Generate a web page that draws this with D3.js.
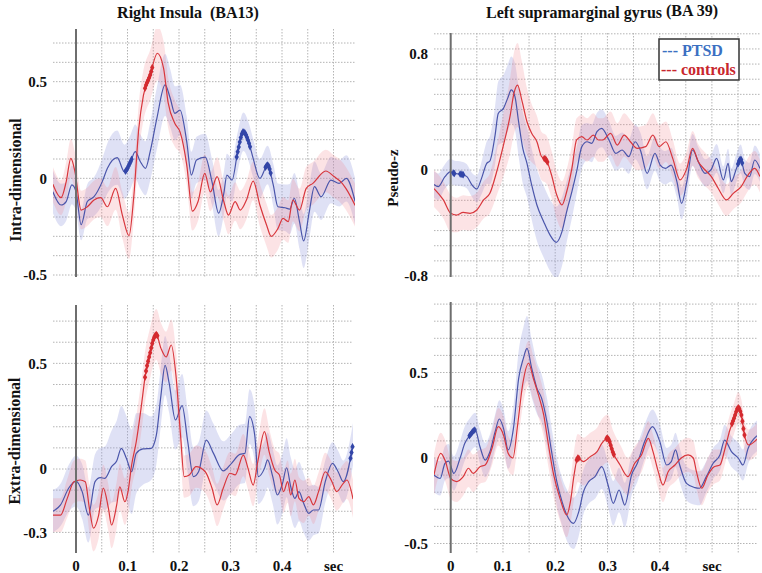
<!DOCTYPE html>
<html><head><meta charset="utf-8">
<script src="https://cdn.jsdelivr.net/npm/d3@7/dist/d3.min.js"></script>
<style>
html,body{margin:0;padding:0;background:#fff;}
svg{display:block;}
text{font-family:"Liberation Serif","Times New Roman",serif;font-weight:bold;}
</style></head>
<body>
<svg id="chart" width="762" height="573"></svg>
<script>
// ---------- DATA: [time (s), mean pseudo-z, half-width of shaded band] ----------
const ri_intra_ptsd = [[-0.045,-0.069,0.11],[-0.029,-0.138,0.11],[-0.019,-0.12,0.1],[-0.008,-0.034,0.1],[0.0,-0.069,0.1],[0.010,-0.24,0.08],[0.022,-0.12,0.09],[0.035,-0.095,0.1],[0.051,-0.017,0.12],[0.061,0.052,0.13],[0.080,0.107,0.14],[0.094,0.034,0.14],[0.106,0.086,0.14],[0.115,0.138,0.14],[0.125,0.086,0.14],[0.135,0.052,0.14],[0.144,0.138,0.15],[0.157,0.31,0.16],[0.173,0.483,0.16],[0.183,0.414,0.15],[0.192,0.336,0.14],[0.202,0.353,0.13],[0.215,0.19,0.13],[0.224,0.017,0.12],[0.234,0.095,0.12],[0.251,0.11,0.12],[0.264,-0.017,0.12],[0.277,-0.18,0.12],[0.287,-0.078,0.11],[0.293,0.017,0.11],[0.303,-0.009,0.11],[0.314,0.138,0.1],[0.325,0.241,0.1],[0.335,0.19,0.1],[0.344,0.103,0.1],[0.357,0,0.1],[0.372,0.069,0.1],[0.383,-0.034,0.11],[0.392,-0.147,0.12],[0.406,-0.152,0.12],[0.415,-0.159,0.13],[0.424,-0.103,0.13],[0.434,-0.224,0.14],[0.442,-0.324,0.14],[0.453,-0.172,0.14],[0.463,-0.043,0.13],[0.476,-0.095,0.12],[0.495,-0.009,0.12],[0.511,-0.026,0.12],[0.525,0,0.12],[0.542,-0.12,0.12]];
const ri_intra_ctrl = [[-0.045,-0.03,0.09],[-0.029,-0.10,0.09],[-0.019,-0.017,0.1],[-0.010,0.103,0.1],[-0.002,0.034,0.1],[0.010,-0.164,0.1],[0.022,-0.147,0.1],[0.035,-0.112,0.1],[0.048,-0.10,0.1],[0.061,-0.147,0.1],[0.077,-0.052,0.11],[0.090,-0.19,0.12],[0.103,-0.297,0.12],[0.112,-0.10,0.12],[0.122,0.26,0.13],[0.131,0.43,0.13],[0.144,0.534,0.13],[0.158,0.647,0.14],[0.170,0.57,0.14],[0.179,0.39,0.13],[0.192,0.284,0.12],[0.202,0.24,0.11],[0.215,0.07,0.1],[0.226,-0.17,0.1],[0.237,-0.12,0.1],[0.25,0.026,0.1],[0.261,-0.07,0.1],[0.274,0.009,0.1],[0.287,-0.12,0.1],[0.296,-0.19,0.1],[0.309,-0.12,0.1],[0.319,-0.164,0.1],[0.331,-0.112,0.1],[0.344,-0.014,0.1],[0.357,-0.138,0.11],[0.370,-0.241,0.11],[0.379,-0.30,0.11],[0.392,-0.26,0.11],[0.402,-0.207,0.11],[0.412,-0.224,0.11],[0.421,-0.112,0.11],[0.434,-0.164,0.11],[0.447,-0.052,0.11],[0.46,-0.026,0.11],[0.485,0.038,0.11],[0.501,0.009,0.11],[0.514,-0.017,0.11],[0.524,-0.052,0.11],[0.542,-0.14,0.11]];
const ri_extra_ptsd = [[-0.045,-0.2,0.1],[-0.030,-0.17,0.1],[-0.014,-0.09,0.11],[0.0,-0.057,0.12],[0.012,-0.107,0.13],[0.024,-0.218,0.13],[0.037,-0.06,0.13],[0.047,-0.041,0.14],[0.056,-0.044,0.15],[0.069,0.011,0.17],[0.079,0.038,0.19],[0.088,0.098,0.2],[0.098,0.05,0.2],[0.108,-0.013,0.2],[0.117,0.074,0.19],[0.130,0.095,0.17],[0.146,0.098,0.15],[0.156,0.16,0.14],[0.165,0.35,0.14],[0.173,0.49,0.14],[0.181,0.405,0.14],[0.193,0.232,0.14],[0.206,0.30,0.15],[0.217,0.129,0.15],[0.228,-0.036,0.14],[0.238,-0.013,0.14],[0.253,0.137,0.14],[0.267,0.074,0.14],[0.286,-0.009,0.14],[0.302,0.027,0.14],[0.318,0.069,0.14],[0.328,0.074,0.14],[0.337,0.248,0.13],[0.347,0.161,0.13],[0.354,-0.036,0.13],[0.366,0.003,0.13],[0.372,0.043,0.13],[0.382,-0.036,0.13],[0.391,-0.123,0.14],[0.401,-0.068,0.14],[0.409,0.006,0.14],[0.417,-0.084,0.14],[0.425,-0.139,0.14],[0.433,-0.107,0.14],[0.442,-0.162,0.14],[0.452,-0.21,0.13],[0.461,-0.194,0.12],[0.471,-0.194,0.11],[0.484,-0.06,0.1],[0.498,0.027,0.1],[0.509,-0.013,0.1],[0.519,-0.06,0.1],[0.538,0.12,0.1]];
const ri_extra_ctrl = [[-0.045,-0.218,0.08],[-0.030,-0.218,0.08],[-0.017,-0.139,0.09],[-0.004,-0.06,0.1],[0.008,-0.052,0.1],[0.018,-0.06,0.1],[0.026,-0.186,0.11],[0.034,-0.28,0.11],[0.044,-0.218,0.11],[0.053,-0.09,0.11],[0.063,-0.186,0.11],[0.069,-0.265,0.11],[0.079,-0.17,0.11],[0.085,-0.084,0.11],[0.095,-0.155,0.11],[0.101,-0.107,0.11],[0.108,0.019,0.11],[0.117,0.129,0.12],[0.127,0.30,0.12],[0.135,0.45,0.12],[0.143,0.54,0.12],[0.151,0.618,0.12],[0.156,0.637,0.12],[0.165,0.571,0.12],[0.175,0.53,0.12],[0.185,0.587,0.12],[0.194,0.445,0.12],[0.203,0.16,0.11],[0.210,-0.036,0.1],[0.220,-0.028,0.1],[0.233,0.011,0.1],[0.251,-0.013,0.1],[0.264,-0.09,0.1],[0.274,-0.17,0.1],[0.286,-0.09,0.1],[0.299,-0.02,0.1],[0.309,-0.028,0.1],[0.325,0.066,0.1],[0.334,0.003,0.1],[0.344,-0.076,0.1],[0.353,0.035,0.1],[0.366,0.177,0.11],[0.375,0.082,0.11],[0.386,-0.005,0.1],[0.395,-0.028,0.1],[0.403,-0.107,0.1],[0.411,-0.06,0.1],[0.417,-0.123,0.1],[0.425,-0.052,0.1],[0.433,-0.139,0.1],[0.442,-0.155,0.1],[0.452,-0.131,0.09],[0.461,-0.17,0.09],[0.471,-0.107,0.09],[0.484,-0.013,0.09],[0.497,-0.06,0.09],[0.506,-0.107,0.09],[0.519,-0.068,0.09],[0.526,-0.052,0.09],[0.538,-0.142,0.09]];
const lsg_intra_ptsd = [[-0.032,-0.11,0.1],[-0.024,-0.126,0.1],[-0.011,-0.05,0.09],[0,-0.013,0.09],[0.006,-0.025,0.09],[0.021,-0.033,0.09],[0.031,-0.05,0.09],[0.040,-0.108,0.09],[0.050,-0.143,0.1],[0.059,-0.063,0.12],[0.069,0.046,0.15],[0.075,0.062,0.17],[0.085,0.241,0.2],[0.091,0.39,0.22],[0.101,0.425,0.23],[0.109,0.494,0.23],[0.116,0.552,0.23],[0.123,0.506,0.23],[0.130,0.333,0.24],[0.138,0.149,0.25],[0.146,0.046,0.25],[0.155,-0.113,0.26],[0.165,-0.264,0.27],[0.178,-0.39,0.27],[0.190,-0.49,0.27],[0.202,-0.546,0.27],[0.213,-0.465,0.26],[0.222,-0.314,0.23],[0.232,-0.164,0.2],[0.241,-0.013,0.17],[0.251,0.161,0.15],[0.261,0.195,0.13],[0.270,0.184,0.13],[0.280,0.264,0.13],[0.289,0.287,0.13],[0.303,0.207,0.13],[0.316,0.115,0.12],[0.328,0.138,0.12],[0.341,0.092,0.12],[0.353,0.195,0.12],[0.363,0.138,0.12],[0.376,-0.025,0.12],[0.391,0.115,0.12],[0.401,0.034,0.12],[0.411,0.011,0.12],[0.422,0.034,0.12],[0.433,-0.088,0.12],[0.442,-0.252,0.12],[0.452,-0.088,0.12],[0.463,0.138,0.11],[0.474,0.057,0.1],[0.487,-0.025,0.1],[0.498,0,0.1],[0.509,0.08,0.1],[0.522,-0.075,0.1],[0.531,0.046,0.1],[0.537,-0.088,0.1],[0.547,0.011,0.1],[0.555,0.076,0.1],[0.563,-0.025,0.1],[0.572,-0.05,0.1],[0.582,0.069,0.1],[0.592,0.011,0.1]];
const lsg_intra_ctrl = [[-0.032,-0.14,0.14],[-0.014,-0.226,0.14],[0,-0.327,0.14],[0.011,-0.34,0.13],[0.024,-0.32,0.13],[0.037,-0.327,0.13],[0.050,-0.302,0.13],[0.063,-0.226,0.14],[0.075,-0.176,0.15],[0.088,-0.013,0.18],[0.101,0.172,0.22],[0.114,0.379,0.26],[0.121,0.529,0.28],[0.128,0.586,0.29],[0.136,0.483,0.27],[0.146,0.333,0.23],[0.155,0.253,0.2],[0.165,0.195,0.18],[0.174,0.092,0.17],[0.183,0.069,0.17],[0.193,-0.038,0.17],[0.203,-0.189,0.18],[0.213,-0.264,0.18],[0.222,-0.164,0.17],[0.232,0.011,0.16],[0.241,0.207,0.15],[0.251,0.23,0.15],[0.261,0.207,0.15],[0.273,0.241,0.15],[0.283,0.207,0.15],[0.291,0.207,0.15],[0.306,0.253,0.15],[0.319,0.172,0.15],[0.332,0.241,0.15],[0.344,0.195,0.15],[0.357,0.149,0.15],[0.373,0.161,0.15],[0.387,0.241,0.15],[0.399,0.161,0.15],[0.412,0.195,0.14],[0.425,0.08,0.13],[0.439,-0.075,0.12],[0.452,0.011,0.12],[0.463,0.149,0.12],[0.474,0.057,0.12],[0.487,0,0.12],[0.499,-0.05,0.12],[0.512,-0.138,0.12],[0.528,-0.226,0.12],[0.541,-0.176,0.12],[0.556,-0.126,0.12],[0.569,-0.038,0.12],[0.582,0.011,0.12],[0.592,-0.05,0.12]];
const lsg_extra_ptsd = [[-0.032,-0.1,0.1],[-0.020,-0.119,0.1],[-0.011,-0.031,0.1],[-0.004,-0.018,0.1],[0.006,-0.09,0.1],[0.018,0,0.1],[0.027,0.086,0.1],[0.037,0.134,0.1],[0.047,0.164,0.1],[0.056,0.066,0.1],[0.066,-0.012,0.1],[0.075,0.037,0.1],[0.085,0.154,0.1],[0.093,0.228,0.11],[0.101,0.173,0.11],[0.110,0.047,0.11],[0.120,0.173,0.13],[0.130,0.466,0.16],[0.139,0.583,0.18],[0.146,0.641,0.19],[0.155,0.524,0.17],[0.165,0.407,0.15],[0.174,0.349,0.14],[0.184,0.212,0.14],[0.193,0.037,0.14],[0.203,-0.138,0.14],[0.213,-0.255,0.14],[0.222,-0.333,0.15],[0.235,-0.382,0.15],[0.245,-0.314,0.14],[0.254,-0.197,0.13],[0.264,-0.138,0.13],[0.276,-0.109,0.13],[0.289,-0.051,0.13],[0.301,-0.158,0.13],[0.311,-0.265,0.13],[0.322,-0.187,0.13],[0.333,-0.275,0.13],[0.346,-0.099,0.12],[0.357,-0.031,0.11],[0.371,0.096,0.1],[0.386,0.183,0.1],[0.4,0.096,0.1],[0.413,-0.041,0.1],[0.422,-0.021,0.1],[0.43,0.047,0.1],[0.438,-0.041,0.1],[0.451,-0.148,0.1],[0.467,-0.173,0.1],[0.476,-0.177,0.1],[0.489,-0.109,0.09],[0.502,-0.031,0.09],[0.515,0.018,0.09],[0.524,0.105,0.09],[0.537,0.037,0.09],[0.55,0,0.09],[0.559,-0.041,0.09],[0.569,0.057,0.09],[0.586,0.13,0.09]];
const lsg_extra_ctrl = [[-0.032,-0.099,0.12],[-0.019,0.027,0.12],[-0.011,-0.012,0.12],[0,-0.119,0.12],[0.011,-0.138,0.12],[0.024,-0.109,0.11],[0.034,-0.06,0.11],[0.043,-0.09,0.11],[0.056,-0.051,0.1],[0.066,-0.041,0.1],[0.079,0.057,0.1],[0.091,0.183,0.11],[0.101,0.134,0.11],[0.110,0.027,0.1],[0.119,0,0.1],[0.128,0.193,0.12],[0.138,0.437,0.13],[0.149,0.554,0.13],[0.158,0.466,0.13],[0.168,0.368,0.13],[0.178,0.251,0.13],[0.187,0.076,0.13],[0.197,-0.099,0.13],[0.209,-0.236,0.13],[0.222,-0.333,0.13],[0.229,-0.255,0.13],[0.236,-0.099,0.14],[0.243,0,0.14],[0.254,-0.021,0.14],[0.267,0.008,0.14],[0.280,0.037,0.14],[0.289,0.086,0.14],[0.3,0.115,0.14],[0.311,0.027,0.13],[0.324,-0.041,0.12],[0.339,-0.109,0.11],[0.352,-0.031,0.1],[0.365,0.018,0.1],[0.378,0.115,0.1],[0.387,0.037,0.1],[0.397,-0.08,0.1],[0.406,-0.158,0.1],[0.416,-0.08,0.1],[0.429,-0.041,0.1],[0.441,0,0.1],[0.454,0.018,0.1],[0.464,0,0.1],[0.47,-0.08,0.1],[0.48,-0.177,0.1],[0.492,-0.099,0.1],[0.504,-0.051,0.1],[0.515,-0.041,0.09],[0.524,0.047,0.09],[0.534,0.164,0.09],[0.542,0.232,0.09],[0.55,0.294,0.09],[0.556,0.251,0.09],[0.562,0.134,0.09],[0.570,0.076,0.09],[0.586,0.11,0.09]];

// significant time windows (marked with symbols)
const ri_intra_ptsd_sig = [[0.096,0.108],[0.312,0.338],[0.368,0.378]];
const ri_intra_ctrl_sig = [[0.134,0.148]];
const ri_extra_ptsd_sig = [[0.533,0.538]];
const ri_extra_ctrl_sig = [[0.134,0.158]];
const lsg_intra_ptsd_sig = [[0.005,0.008],[0.018,0.025],[0.550,0.559]];
const lsg_intra_ctrl_sig = [[0.179,0.185]];
const lsg_extra_ptsd_sig = [[0.036,0.047]];
const lsg_extra_ctrl_sig = [[0.241,0.246],[0.298,0.312],[0.538,0.563]];

// tick labels
const ri_intra_yticks = [0.5, 0, -0.5];
const ri_extra_yticks = [0.5, 0, -0.3];
const lsg_intra_yticks = [0.8, 0, -0.8];
const lsg_extra_yticks = [0.5, 0, -0.5];
const x_ticks = [0, 0.1, 0.2, 0.3, 0.4];
const x_unit = {t: 0.5, label: "sec"};
const groups = ["PTSD", "controls"];
const columnTitles = ["Right Insula  (BA13)", "Left supramarginal gyrus"];
const columnTitleSup = "(BA 39)";
const rowLabels = ["Intra-dimensional", "Extra-dimensional"];
const unitLabel = "Pseudo-z";

// ---------- STYLE ----------
const COL = {
  ptsdLine: "#4a55aa", ctrlLine: "#d8363c",
  ptsdBand: "rgb(150,155,222)", ctrlBand: "rgb(240,128,138)",
  ptsdMark: "#3346a8", ctrlMark: "#d42a2f",
  grid: "#b4b4b4", zero: "#6e6e6e",
  legPtsd: "#3b70c2", legCtrl: "#c8262d"
};

const svg = d3.select("#chart");
svg.append("rect").attr("width",762).attr("height",573).attr("fill","#fff");

function gridLinear(lo, hi, step){ const out=[]; for(let k=Math.round(lo/step); k<=Math.round(hi/step); k++) out.push(+(k*step).toFixed(4)); return out; }

const panels = [
  { id:"p1", series:[ri_intra_ptsd, ri_intra_ctrl], sig:[ri_intra_ptsd_sig, ri_intra_ctrl_sig],
    box:{l:53,r:355,t:29,b:277}, x:d3.scaleLinear().domain([0,0.5]).range([76,333.5]),
    y:d3.scaleLinear().domain([-0.5,0.7]).range([275,43]), yticks:ri_intra_yticks,
    hgrid: null, hgridVals: gridLinear(-0.5,0.7,0.1), xlabels:false },
  { id:"p2", series:[lsg_intra_ptsd, lsg_intra_ctrl], sig:[lsg_intra_ptsd_sig, lsg_intra_ctrl_sig],
    box:{l:434,r:760,t:33,b:277}, x:d3.scaleLinear().domain([0,0.5]).range([450.7,711.9]),
    y:d3.scaleLinear().domain([-0.8,0,0.8]).range([276,170,54]), yticks:lsg_intra_yticks,
    hgrid: d3.scaleLinear().domain([-7,9]).range([276,33.8]), hgridVals: d3.range(-7,10), xlabels:false },
  { id:"p3", series:[ri_extra_ptsd, ri_extra_ctrl], sig:[ri_extra_ptsd_sig, ri_extra_ctrl_sig],
    box:{l:53,r:353,t:305,b:553}, x:d3.scaleLinear().domain([0,0.5]).range([76,333.5]),
    y:d3.scaleLinear().domain([-0.3,0.7]).range([532.4,321.1]), yticks:ri_extra_yticks,
    hgrid: null, hgridVals: gridLinear(-0.3,0.7,0.1), xlabels:true },
  { id:"p4", series:[lsg_extra_ptsd, lsg_extra_ctrl], sig:[lsg_extra_ptsd_sig, lsg_extra_ctrl_sig],
    box:{l:434,r:757,t:302,b:553}, x:d3.scaleLinear().domain([0,0.5]).range([450.7,712.1]),
    y:d3.scaleLinear().domain([-0.5,0.9]).range([543.5,304.1]), yticks:lsg_extra_yticks,
    hgrid: null, hgridVals: gridLinear(-0.5,0.9,0.1), xlabels:true }
];

const defs = svg.append("defs");

panels.forEach(p => {
  const g = svg.append("g").attr("id", p.id);
  const B = p.box;
  defs.append("clipPath").attr("id","clip-"+p.id)
    .append("rect").attr("x",B.l).attr("y",B.t).attr("width",B.r-B.l).attr("height",B.b-B.t);

  // grid
  const gg = g.append("g").attr("class","grid");
  const hy = p.hgrid ? p.hgrid : p.y;
  gg.selectAll("line.h").data(p.hgridVals).join("line").attr("class","h")
    .attr("x1",B.l).attr("x2",B.r).attr("y1",d=>hy(d)).attr("y2",d=>hy(d))
    .attr("stroke",COL.grid).attr("stroke-width",1).attr("stroke-dasharray","1.5,1.5");
  const tMax = p.x.invert(B.r);
  const vt = gridLinear(0.05, tMax, 0.05).filter(t => t > 0.001 && p.x(t) < B.r - 2);
  gg.selectAll("line.v").data(vt).join("line").attr("class","v")
    .attr("y1",B.t).attr("y2",B.b).attr("x1",d=>p.x(d)).attr("x2",d=>p.x(d))
    .attr("stroke",COL.grid).attr("stroke-width",1).attr("stroke-dasharray","1.5,1.5");

  const clip = g.append("g").attr("clip-path","url(#clip-"+p.id+")");
  const area = d3.area().curve(d3.curveMonotoneX)
    .x(d=>p.x(d[0])).y0(d=>p.y(d[1]-d[2])).y1(d=>p.y(d[1]+d[2]));
  const line = d3.line().curve(d3.curveMonotoneX).x(d=>p.x(d[0])).y(d=>p.y(d[1]));

  clip.append("path").datum(p.series[0]).attr("d",area).attr("fill",COL.ptsdBand).attr("fill-opacity",0.3);
  clip.append("path").datum(p.series[1]).attr("d",area).attr("fill",COL.ctrlBand).attr("fill-opacity",0.22);

  // zero line
  g.append("line").attr("x1",p.x(0)).attr("x2",p.x(0)).attr("y1",B.t).attr("y2",B.b)
    .attr("stroke",COL.zero).attr("stroke-width",2);

  const lines = [
    clip.append("path").datum(p.series[0]).attr("d",line).attr("fill","none").attr("stroke",COL.ptsdLine).attr("stroke-width",1.2),
    clip.append("path").datum(p.series[1]).attr("d",line).attr("fill","none").attr("stroke",COL.ctrlLine).attr("stroke-width",1.2)
  ];

  // significance markers placed on the drawn curve
  const sym = d3.symbol().type(d3.symbolDiamond).size(16);
  [0,1].forEach(si => {
    const node = lines[si].node();
    const L = node.getTotalLength();
    const pts = [];
    p.sig[si].forEach(([a,b]) => {
      for (let t=a; t<=b+1e-9; t+=0.002) {
        const tx = p.x(t);
        let lo=0, hi=L;
        for (let k=0;k<40;k++){ const m=(lo+hi)/2; if (node.getPointAtLength(m).x < tx) lo=m; else hi=m; }
        const pt = node.getPointAtLength((lo+hi)/2);
        pts.push([pt.x, pt.y]);
      }
    });
    g.append("g").selectAll("path").data(pts).join("path")
      .attr("d", sym).attr("transform", d=>`translate(${d[0]},${d[1]})`)
      .attr("fill", si===0 ? COL.ptsdMark : COL.ctrlMark);
  });

  // y tick labels
  g.selectAll("text.yt").data(p.yticks).join("text").attr("class","yt")
    .attr("x", B.l - 6).attr("y", d=>p.y(d)).attr("dy","0.35em")
    .attr("text-anchor","end").attr("font-size",15).attr("fill","#111")
    .text(d=>String(d));

  if (p.xlabels) {
    g.selectAll("text.xt").data(x_ticks).join("text").attr("class","xt")
      .attr("x", d=>p.x(d)).attr("y", 571).attr("text-anchor","middle")
      .attr("font-size",15).attr("fill","#111").text(d=>String(d));
    g.append("text").attr("x",p.x(x_unit.t)).attr("y",571).attr("text-anchor","middle")
      .attr("font-size",15).attr("fill","#111").text(x_unit.label);
  }
});

// titles
svg.append("text").attr("x",188).attr("y",18).attr("text-anchor","middle").attr("font-size",16)
  .attr("fill","#111").style("white-space","pre").text(columnTitles[0]);
const t2 = svg.append("text").attr("x",486).attr("y",18).attr("font-size",16).attr("fill","#111");
t2.append("tspan").text(columnTitles[1] + " ");
t2.append("tspan").attr("dy",-2).text(columnTitleSup);

// row labels
svg.append("text").attr("transform","translate(21,180) rotate(-90)").attr("text-anchor","middle")
  .attr("font-size",16).attr("fill","#111").text(rowLabels[0]);
svg.append("text").attr("transform","translate(20,441) rotate(-90)").attr("text-anchor","middle")
  .attr("font-size",16).attr("fill","#111").text(rowLabels[1]);
svg.append("text").attr("transform","translate(398,178) rotate(-90)").attr("text-anchor","middle")
  .attr("font-size",15).attr("fill","#111").text(unitLabel);

// legend
const lg = svg.append("g");
lg.append("rect").attr("x",659).attr("y",39).attr("width",80).attr("height",41)
  .attr("fill","#fff").attr("stroke","#333").attr("stroke-width",1.5);
lg.append("text").attr("x",662).attr("y",56).attr("font-size",16).attr("fill",COL.legPtsd).text("--- " + groups[0]);
lg.append("text").attr("x",661).attr("y",75).attr("font-size",16).attr("fill",COL.legCtrl).text("--- " + groups[1]);
</script>
</body></html>
